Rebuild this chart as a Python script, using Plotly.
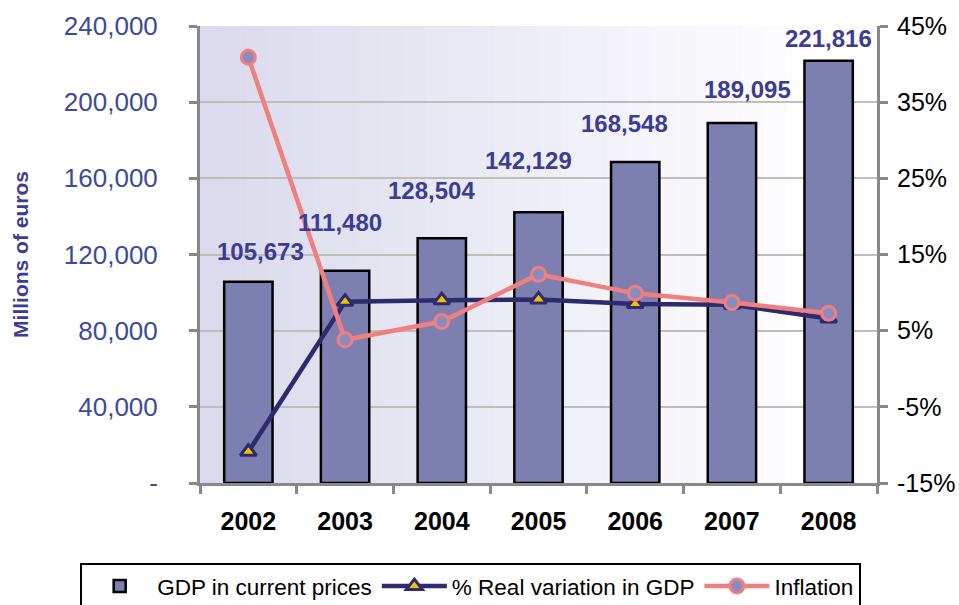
import plotly.graph_objects as go

years = ["2002", "2003", "2004", "2005", "2006", "2007", "2008"]
gdp = [105673, 111480, 128504, 142129, 168548, 189095, 221816]
gdp_labels = ["105,673", "111,480", "128,504", "142,129", "168,548", "189,095", "221,816"]
real_var = [-10.9, 8.8, 9.0, 9.1, 8.5, 8.4, 6.6]
inflation = [40.9, 3.8, 6.2, 12.4, 9.9, 8.7, 7.3]
left_ticks = [0, 40000, 80000, 120000, 160000, 200000, 240000]
left_tick_text = ["-", "40,000", "80,000", "120,000", "160,000", "200,000", "240,000"]
right_ticks = [-15, -5, 5, 15, 25, 35, 45]
right_tick_text = ["-15%", "-5%", "5%", "15%", "25%", "35%", "45%"]

FONT = "Liberation Sans, Arial, sans-serif"

fig = go.Figure()
fig.add_trace(go.Bar(
    x=years, y=gdp, name="GDP in current prices", width=0.5,
    marker=dict(color="#7d7fb0", line=dict(color="#000000", width=2.5)),
    xaxis="x", yaxis="y",
))
fig.add_trace(go.Scatter(
    x=years, y=real_var, name="% Real variation in GDP", mode="lines+markers",
    line=dict(color="#2e2a6e", width=4.5),
    marker=dict(symbol="triangle-up", size=14, color="#f2c200", line=dict(color="#2e2a6e", width=3)),
    xaxis="x", yaxis="y2",
))
fig.add_trace(go.Scatter(
    x=years, y=inflation, name="Inflation", mode="lines+markers",
    line=dict(color="#f08080", width=4.5),
    marker=dict(symbol="circle", size=14, color="#8a8cc0", line=dict(color="#f08080", width=3)),
    xaxis="x", yaxis="y2",
))

# label offsets (style)
xshifts = [12, -5, -10, -10, -11, 16, 0]
yshifts = [30, 48, 48, 52, 39, 33, 22]
for i, (v, t) in enumerate(zip(gdp, gdp_labels)):
    fig.add_annotation(x=i, y=v, xref="x", yref="y", text=t, showarrow=False,
                       xshift=xshifts[i], yshift=yshifts[i],
                       font=dict(family=FONT, size=24, color="#3c3c94", weight="bold"))

# gradient background (paper coords == plot area here)
n = 30
c0 = (218, 218, 236)
c1 = (254, 254, 255)
for i in range(n):
    f = min(1.0, i / (n - 1) * 1.1)
    col = tuple(int(round(c0[k] + (c1[k] - c0[k]) * f)) for k in range(3))
    fig.add_shape(type="rect", xref="paper", yref="paper",
                  x0=i / n, x1=(i + 1) / n + 0.002, y0=0, y1=1,
                  fillcolor="rgb(%d,%d,%d)" % col, line=dict(width=0), layer="below")

fig.update_layout(
    width=959, height=605,
    margin=dict(l=200, r=82, t=26, b=122, autoexpand=False),
    paper_bgcolor="white", plot_bgcolor="rgba(0,0,0,0)",
    font=dict(family=FONT),
    showlegend=True,
    legend=dict(orientation="h", x=-0.177, y=-0.175, xanchor="left", yanchor="top",
                bordercolor="#000000", borderwidth=2, bgcolor="white",
                font=dict(family=FONT, size=22.5, color="#000000"),
                itemwidth=65, traceorder="normal"),
    xaxis=dict(type="category", range=[-0.5, 6.5], showline=True, linecolor="#888888", linewidth=3,
               ticks="outside", tickson="boundaries", ticklen=8, tickwidth=3, tickcolor="#888888",
               tickfont=dict(family=FONT, size=25, color="#000000", weight="bold"),
               tickangle=0, showgrid=False, ticklabelstandoff=14),
    yaxis=dict(range=[0, 240000], tickmode="array", tickvals=left_ticks, ticktext=left_tick_text,
               showline=True, linecolor="#888888", linewidth=3,
               ticks="outside", ticklen=8, tickwidth=3, tickcolor="#888888",
               tickfont=dict(family=FONT, size=26, color="#3a4a9c"),
               showgrid=True, gridcolor="#bdbdbd", gridwidth=1.5, zeroline=False,
               ticklabelstandoff=26,
               title=dict(text="Millions of euros", standoff=30,
                          font=dict(family=FONT, size=21, color="#3c3c94", weight="bold"))),
    yaxis2=dict(range=[-15, 45], tickmode="array", tickvals=right_ticks, ticktext=right_tick_text,
                overlaying="y", side="right", anchor="x",
                showline=True, linecolor="#888888", linewidth=3,
                ticks="outside", ticklen=8, tickwidth=3, tickcolor="#888888",
                tickfont=dict(family=FONT, size=25, color="#000000"),
                showgrid=False, zeroline=False, ticklabelstandoff=4),
)

fig.write_html("out.html")
